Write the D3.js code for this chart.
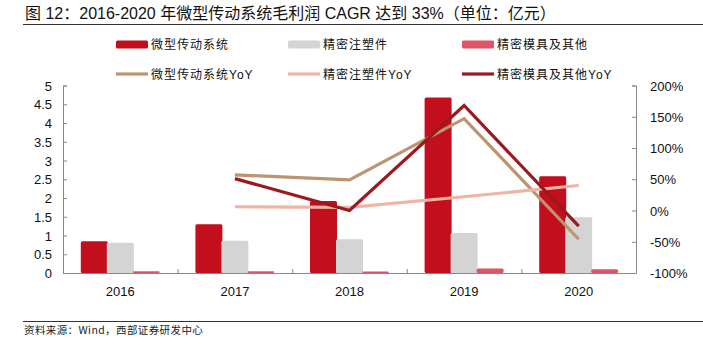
<!DOCTYPE html>
<html>
<head>
<meta charset="UTF-8">
<style>
  body { margin: 0; background: #fff; }
  svg { display: block; font-family: "Liberation Sans", Arial, sans-serif; }
  .cjk { font-family: "Noto Sans CJK SC", "Liberation Sans", sans-serif; }
  .mix { font-family: "Liberation Sans", "Noto Sans CJK SC", sans-serif; }
</style>
</head>
<body>
<svg id="chart" width="703" height="345"></svg>
<script src="https://d3js.org/d3.v7.min.js"></script>
<script>
// data
const years = ["2016", "2017", "2018", "2019", "2020"];
const barNames = ["微型传动系统", "精密注塑件", "精密模具及其他"];
const motor = [0.85, 1.3, 1.92, 4.68, 2.58];
const molding = [0.81, 0.86, 0.9, 1.07, 1.49];
const mold = [0.05, 0.05, 0.04, 0.12, 0.1];
const lineNames = ["微型传动系统YoY", "精密注塑件YoY", "精密模具及其他YoY"];
const motorYoY = [null, 57, 49, 147, -46];
const moldingYoY = [null, 6, 5, 22, 40];
const moldYoY = [null, 51, 0, 168, -25];
const leftTicks = [0, 0.5, 1, 1.5, 2, 2.5, 3, 3.5, 4, 4.5, 5];
const rightTicks = [-100, -50, 0, 50, 100, 150, 200];

const barColors = ["#C20E1D", "#D4D4D4", "#E05468"];
const lineColors = ["#BA9570", "#F0B4A4", "#9B1A1E"];

const svg = d3.select("#chart");

// title
svg.append("text").attr("class", "mix")
  .attr("x", 25).attr("y", 18.5)
  .attr("font-size", 16).attr("fill", "#111")
  .text("图 12：2016-2020 年微型传动系统毛利润 CAGR 达到 33%（单位：亿元）");
svg.append("line").attr("x1", 23).attr("x2", 703).attr("y1", 24.5).attr("y2", 24.5)
  .attr("stroke", "#333").attr("stroke-width", 1);

// footer
svg.append("line").attr("x1", 23).attr("x2", 703).attr("y1", 321.5).attr("y2", 321.5)
  .attr("stroke", "#333").attr("stroke-width", 1);
svg.append("text").attr("class", "cjk")
  .attr("x", 24).attr("y", 334)
  .attr("font-size", 10.5).attr("letter-spacing", 0.4).attr("fill", "#222")
  .text("资料来源：Wind，西部证券研发中心");

const plotLeft = 63, plotRight = 636, plotTop = 85.5, plotBottom = 273;

const x = d3.scaleBand().domain(years).range([plotLeft, plotRight]);
const y = d3.scaleLinear().domain([0, 5]).range([plotBottom, plotTop]);
const y2 = d3.scaleLinear().domain([-100, 200]).range([plotBottom, plotTop]);

const barW = 27, barStep = 26;

// bars
const series = [motor, molding, mold];
series.forEach((vals, s) => {
  svg.append("g").selectAll("rect")
    .data(vals)
    .enter().append("rect")
    .attr("x", (d, i) => x(years[i]) + x.bandwidth() / 2 + (s - 1) * barStep - barW / 2)
    .attr("y", d => y(d))
    .attr("width", barW)
    .attr("height", d => plotBottom - y(d))
    .attr("rx", 1.5)
    .attr("fill", barColors[s]);
});

// axes
const axisColor = "#888";
const gl = svg.append("g").attr("transform", `translate(${plotLeft},0)`)
  .call(d3.axisRight(y).tickValues(leftTicks).tickSize(4).tickFormat(d3.format("")));
gl.selectAll("text").attr("x", -11).attr("text-anchor", "end");
const gr = svg.append("g").attr("transform", `translate(${plotRight},0)`)
  .call(d3.axisLeft(y2).tickValues(rightTicks).tickSize(4).tickFormat(d => d + "%"));
gr.selectAll("text").attr("x", 14).attr("text-anchor", "start");
const gb = svg.append("g").attr("transform", `translate(0,${plotBottom})`)
  .call(d3.axisBottom(x).tickSize(0));
gb.selectAll("text").attr("dy", "0").attr("y", 23);
// category separators
svg.append("g").selectAll("line")
  .data(years.slice(1))
  .enter().append("line")
  .attr("x1", d => x(d) + 0.5).attr("x2", d => x(d) + 0.5)
  .attr("y1", plotBottom).attr("y2", plotBottom - 4)
  .attr("stroke", axisColor);

[gl, gr, gb].forEach(g => {
  g.selectAll(".domain").attr("stroke", axisColor);
  g.selectAll(".tick line").attr("stroke", axisColor);
  g.selectAll("text").attr("font-size", 13).attr("fill", "#111")
    .attr("font-family", "Liberation Sans, Arial, sans-serif");
});
gl.selectAll(".tick text").attr("dy", "0.36em");
gr.selectAll(".tick text").attr("dy", "0.36em");
gb.select(".domain").attr("d", `M${plotLeft},0.5H${plotRight}`);

// lines
const lineSeries = [motorYoY, moldingYoY, moldYoY];
const lineGen = d3.line()
  .defined(d => d.v !== null)
  .x(d => x(d.year) + x.bandwidth() / 2)
  .y(d => y2(d.v));
lineSeries.forEach((vals, s) => {
  svg.append("path")
    .datum(vals.map((v, i) => ({ year: years[i], v: v })))
    .attr("d", lineGen)
    .attr("fill", "none")
    .attr("stroke", lineColors[s])
    .attr("stroke-width", 3.2)
    .attr("stroke-linejoin", "miter");
});

// legend
const legX = [116, 288, 462];
const swW = 32;
barNames.forEach((n, i) => {
  svg.append("rect").attr("x", legX[i]).attr("y", 40.5).attr("width", swW).attr("height", 8)
    .attr("rx", 1.5).attr("fill", barColors[i]);
  svg.append("text").attr("class", "cjk").attr("x", legX[i] + swW + 3).attr("y", 48.8)
    .attr("font-size", 12).attr("letter-spacing", 1).attr("fill", "#111").text(n);
});
lineNames.forEach((n, i) => {
  svg.append("line").attr("x1", legX[i]).attr("x2", legX[i] + swW).attr("y1", 74).attr("y2", 74)
    .attr("stroke", lineColors[i]).attr("stroke-width", 3.2);
  svg.append("text").attr("class", "mix").attr("x", legX[i] + swW + 3).attr("y", 78.5)
    .attr("font-size", 12).attr("letter-spacing", 1).attr("fill", "#111").text(n);
});
</script>
</body>
</html>
